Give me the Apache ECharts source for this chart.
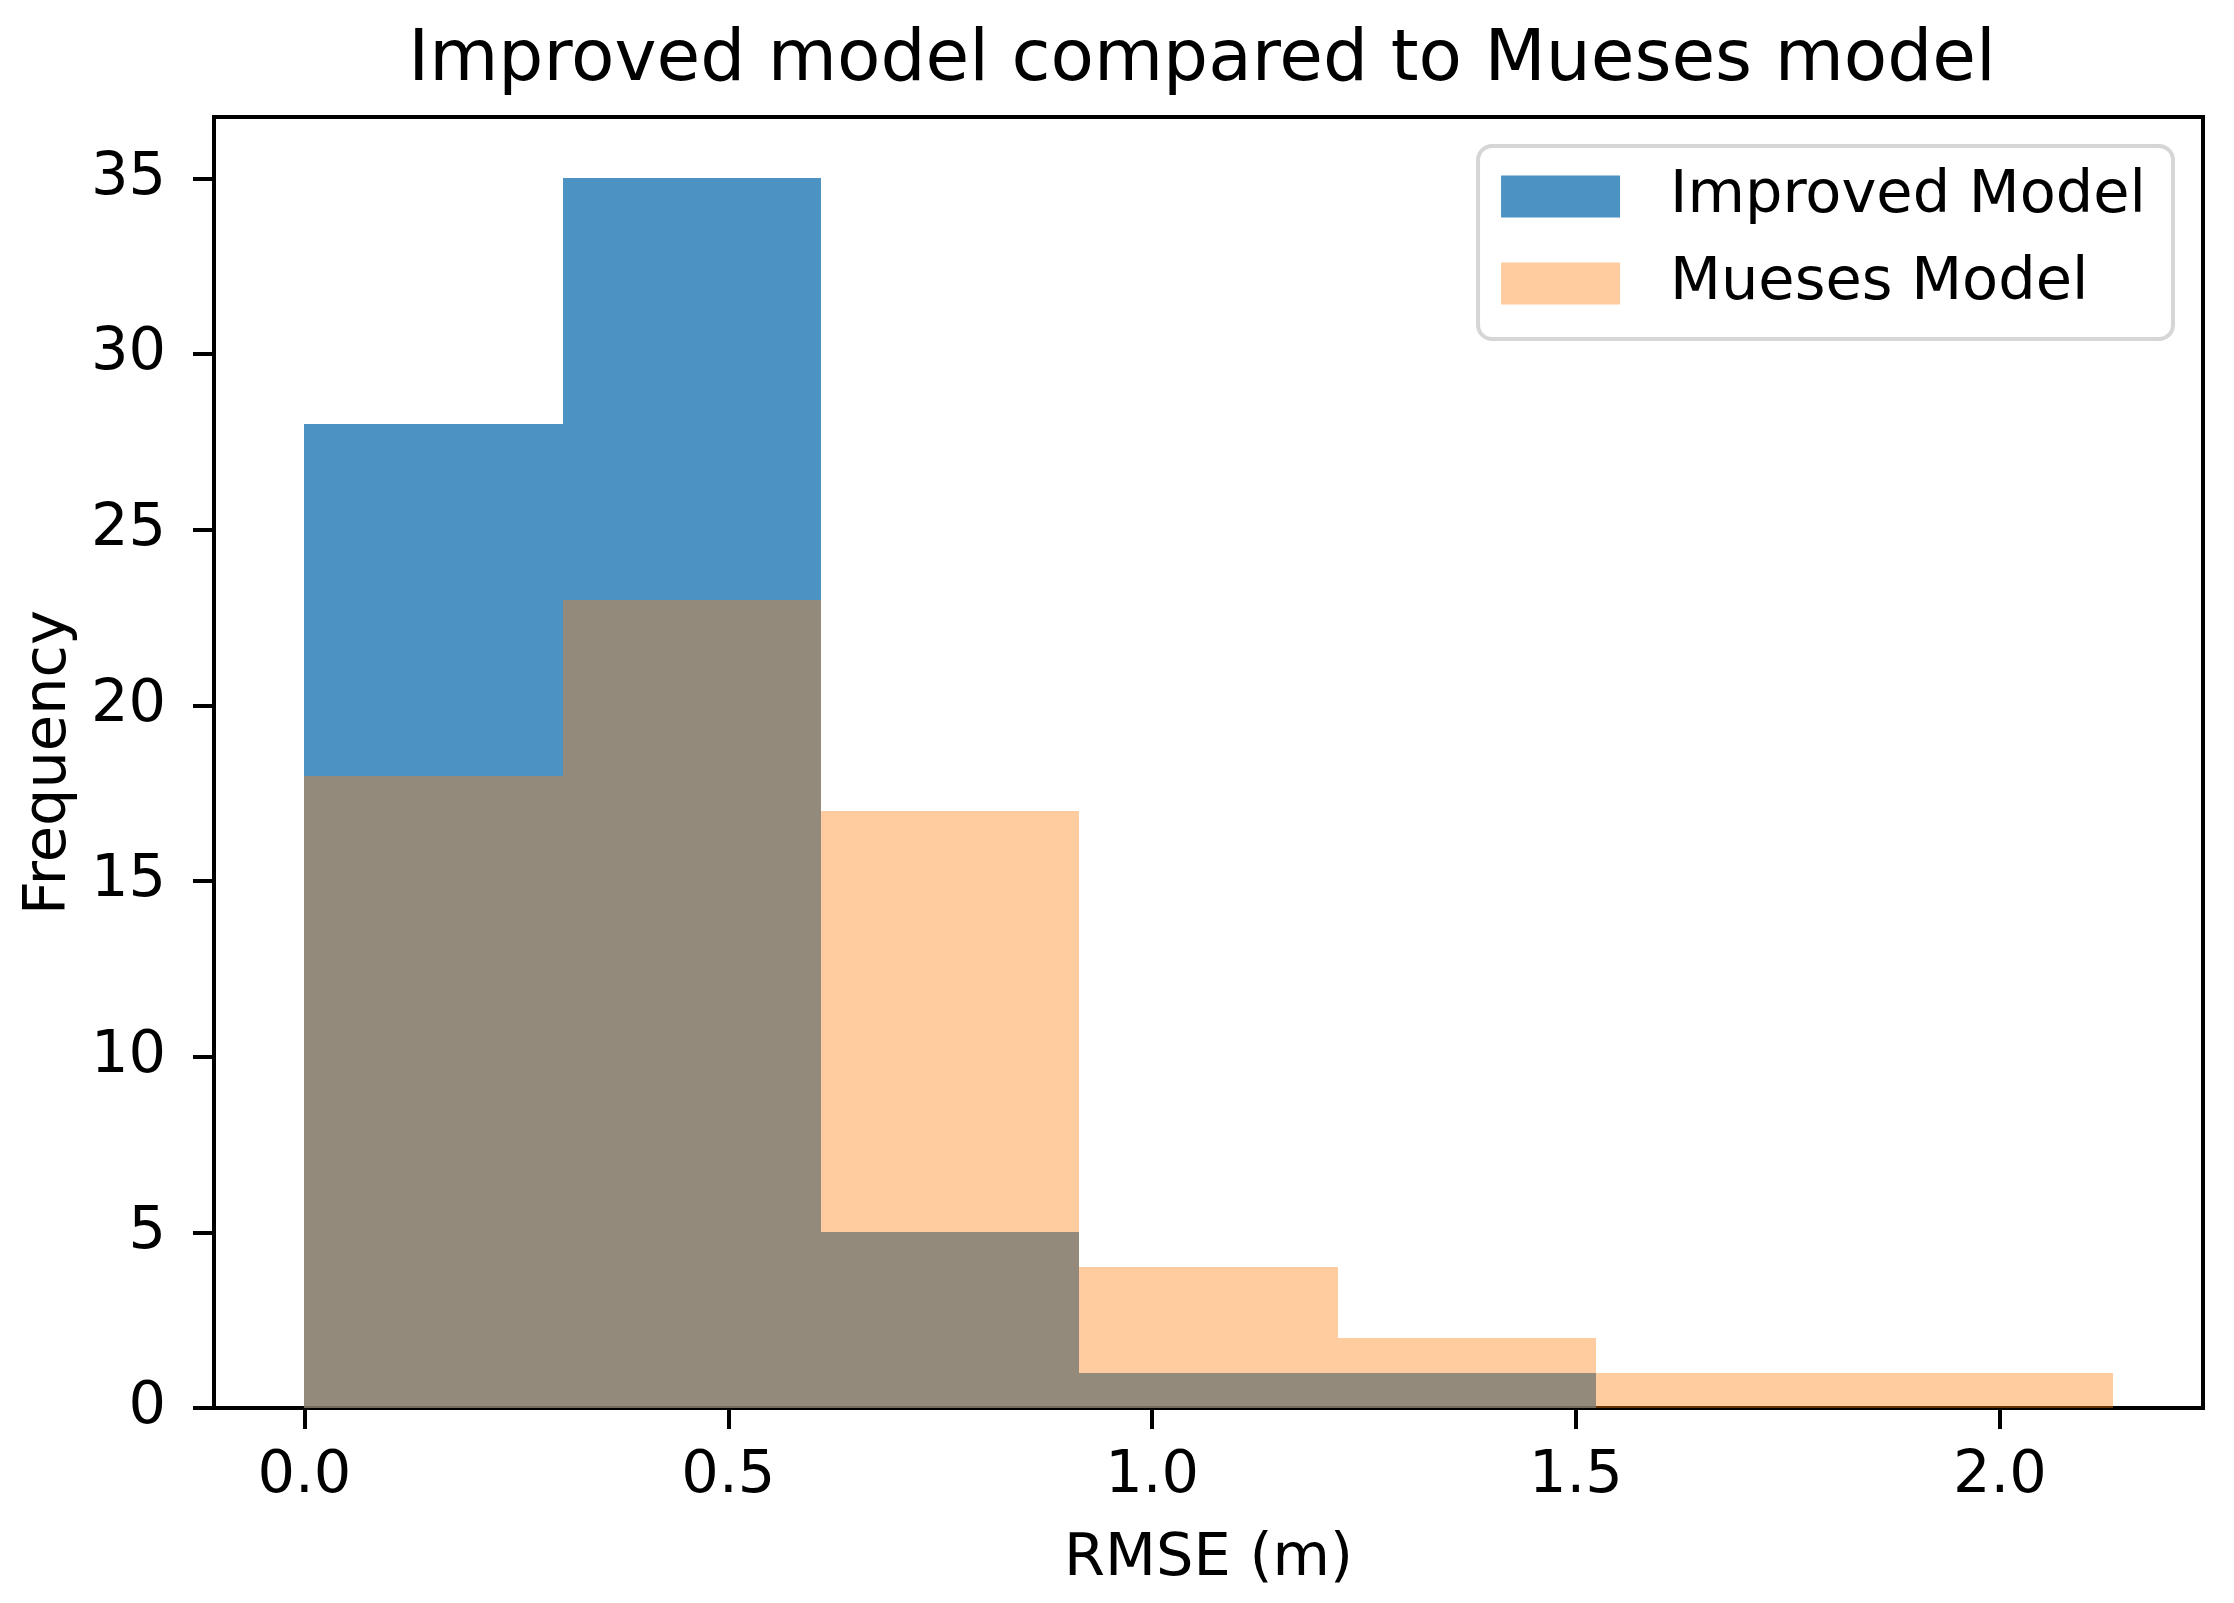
<!DOCTYPE html>
<html>
<head>
<meta charset="utf-8">
<script src="https://cdn.jsdelivr.net/npm/echarts@6/dist/echarts.min.js"></script>
<style>
html,body{margin:0;padding:0;background:#fff;}
#chart{width:2234px;height:1603px;}
</style>
</head>
<body>
<div id="chart"></div>
<script>
const binEdges = [0, 0.3047, 0.6094, 0.9141, 1.2189, 1.5236, 1.8283, 2.133];
const improvedCounts = [28, 35, 5, 1, 1, 0, 0];
const muesesCounts = [18, 23, 17, 4, 2, 1, 1];
const xTicks = [0, 0.5, 1.0, 1.5, 2.0];
const yTicks = [0, 5, 10, 15, 20, 25, 30, 35];
const seriesNames = ['Improved Model', 'Mueses Model'];

const FONT = 'DejaVu Sans';

function toBins(counts) {
  return counts.map((c, i) => [binEdges[i], binEdges[i + 1], c]);
}

function renderBar(params, api) {
  const x0 = api.value(0), x1 = api.value(1), h = api.value(2);
  const p0 = api.coord([x0, h]);
  const p1 = api.coord([x1, 0]);
  const left = Math.round(p0[0]), right = Math.round(p1[0]);
  const top = Math.round(p0[1]), bottom = Math.round(p1[1]);
  return {
    type: 'rect',
    shape: { x: left, y: top, width: right - left, height: bottom - top },
    style: api.style()
  };
}

const chart = echarts.init(document.getElementById('chart'), null, { renderer: 'canvas' });
chart.setOption({
  animation: false,
  backgroundColor: '#fff',
  textStyle: { fontFamily: FONT },
  title: {
    text: 'Improved model compared to Mueses model',
    left: 1197,
    textAlign: 'center',
    top: 21,
    textStyle: { fontFamily: FONT, fontSize: 71, fontWeight: 'normal', color: '#000', lineHeight: 72 }
  },
  grid: {
    left: 214, right: 31, top: 117, bottom: 195,
    show: true, borderColor: '#000', borderWidth: 4, backgroundColor: 'transparent'
  },
  legend: {
    right: 2234 - 2173,
    top: 146,
    orient: 'vertical',
    itemWidth: 119,
    itemHeight: 42,
    itemGap: 28,
    padding: [21, 27, 26, 23],
    backgroundColor: '#fff',
    borderColor: '#d6d6d6',
    borderWidth: 4,
    borderRadius: 14,
    icon: 'rect',
    selectedMode: false,
    textStyle: { fontFamily: FONT, fontSize: 59, color: '#000', padding: [0, 0, 0, 45] },
    data: [
      { name: seriesNames[0], itemStyle: { color: '#1f77b4', opacity: 0.8 } },
      { name: seriesNames[1], itemStyle: { color: '#ff7f0e', opacity: 0.4 } }
    ]
  },
  xAxis: {
    type: 'value',
    min: -0.1067,
    max: 2.2397,
    name: 'RMSE (m)',
    nameLocation: 'middle',
    nameGap: 122,
    nameTextStyle: { fontFamily: FONT, fontSize: 59, color: '#000', verticalAlign: 'top', lineHeight: 60 },
    axisLine: { show: true, onZero: false, lineStyle: { color: '#000', width: 4 } },
    axisTick: { show: true, length: 21, lineStyle: { color: '#000', width: 4 }, customValues: xTicks },
    axisLabel: {
      show: true, margin: 39, fontFamily: FONT, fontSize: 59, color: '#000', lineHeight: 60,
      customValues: xTicks,
      formatter: v => v.toFixed(1)
    },
    splitLine: { show: false }
  },
  yAxis: {
    type: 'value',
    min: 0,
    max: 36.75,
    name: 'Frequency',
    nameLocation: 'middle',
    nameRotate: 90,
    nameGap: 134,
    nameTextStyle: { fontFamily: FONT, fontSize: 59, color: '#000', lineHeight: 60 },
    axisLine: { show: true, onZero: false, lineStyle: { color: '#000', width: 4 } },
    axisTick: { show: true, length: 21, lineStyle: { color: '#000', width: 4 }, customValues: yTicks },
    axisLabel: {
      show: true, margin: 48, fontFamily: FONT, fontSize: 59, color: '#000',
      customValues: yTicks,
      formatter: v => String(v)
    },
    splitLine: { show: false }
  },
  series: [
    {
      name: seriesNames[0],
      type: 'custom',
      renderItem: renderBar,
      itemStyle: { color: '#1f77b4', opacity: 0.8 },
      encode: { x: [0, 1], y: 2 },
      data: toBins(improvedCounts)
    },
    {
      name: seriesNames[1],
      type: 'custom',
      renderItem: renderBar,
      itemStyle: { color: '#ff7f0e', opacity: 0.4 },
      encode: { x: [0, 1], y: 2 },
      data: toBins(muesesCounts)
    }
  ]
});
</script>
</body>
</html>
